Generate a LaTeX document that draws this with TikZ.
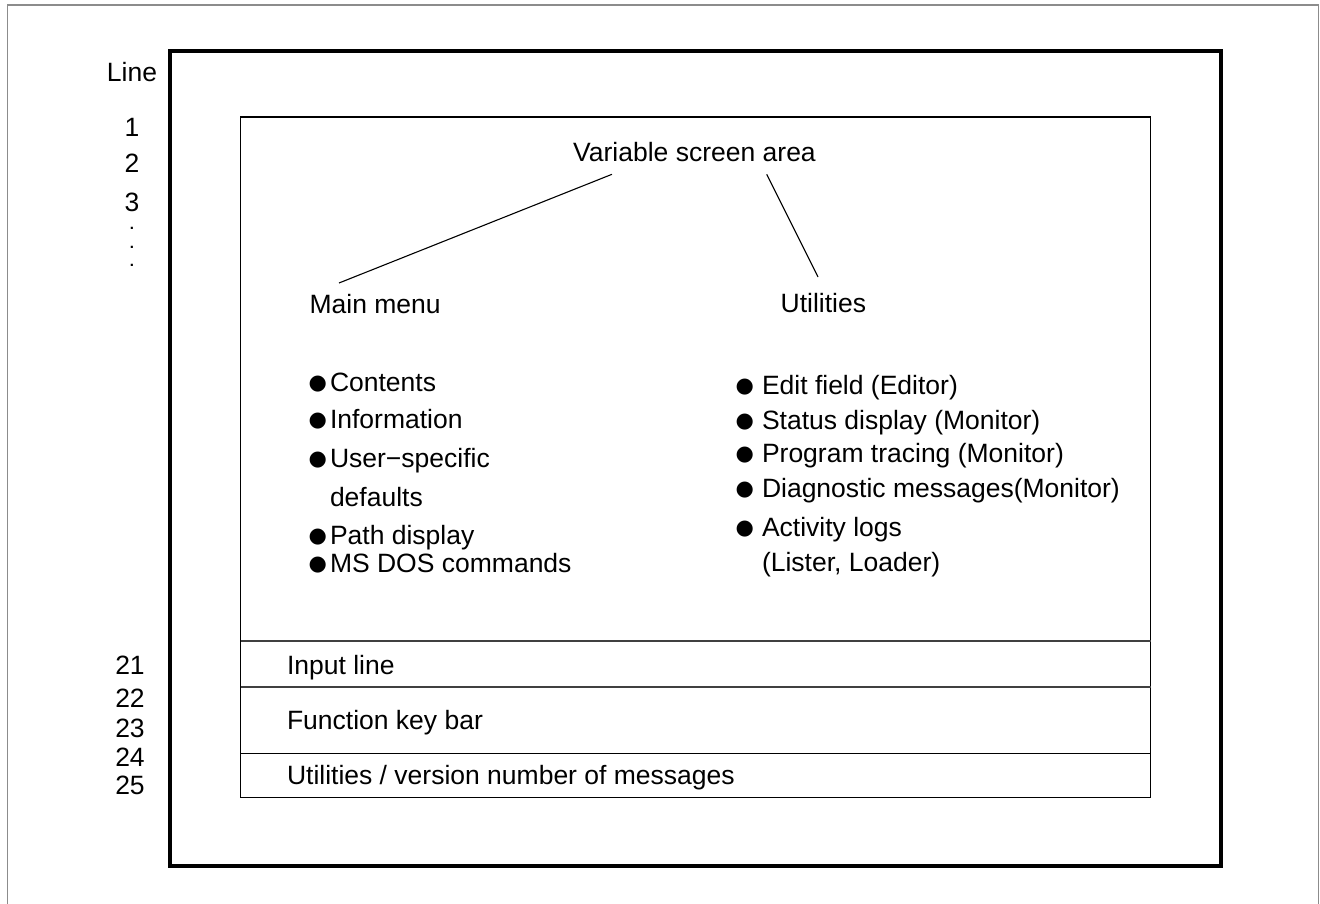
\documentclass[tikz,border=0pt]{standalone}
\usepackage{fontspec}
\setmainfont{Liberation Sans}
\newfontfamily\symfont{DejaVu Sans}
\newcommand{\bul}{\raisebox{2.5pt}{\symfont\fontsize{21}{21}\selectfont ●}}
\newcommand{\itm}[1]{\llap{\bul\kern3pt}#1}
\newcommand{\itmr}[1]{\llap{\bul\kern8pt}#1}
\begin{document}
\begin{tikzpicture}[x=1pt,y=-1pt,
  txt/.style={inner sep=0pt, outer sep=0pt, font=\fontsize{26.5}{32}\selectfont},
  lbl/.style={txt, anchor=base},
  lft/.style={txt, anchor=base west},
  dotlbl/.style={inner sep=0pt, outer sep=0pt, anchor=base, font=\fontsize{15}{15}\selectfont\bfseries},
  thinline/.style={line width=1.3pt},
  sepline/.style={line width=1.7pt, black!75},
  conn/.style={line width=1.1pt}]
\useasboundingbox (0,0) rectangle (1320,904);
% outer frame
\draw[black!45, line width=1.2pt] (7.5,5) rectangle (1318.5,920);
% screen (thick) and inner area
\draw[line width=3.8pt] (170,50.7) rectangle (1220.7,865.7);
\draw[thinline] (240.7,117) rectangle (1150.7,797.3);
\draw[sepline] (240.7,640.7) -- (1150.7,640.7);
\draw[sepline] (240.7,686.7) -- (1150.7,686.7);
\draw[thinline] (240.7,753.3) -- (1150.7,753.3);
% line numbers
\node[lbl] (lline) at (132,81.5) {Line};
\node[lbl] (l1) at (132,136.5) {1};
\node[lbl] (l2) at (132,172.5) {2};
\node[lbl] (l3) at (132,211.5) {3};
\node[dotlbl] (d1) at (132,229.5) {.};
\node[dotlbl] (d2) at (132,248.5) {.};
\node[dotlbl] (d3) at (132,266.5) {.};
\node[lbl] (l21) at (130,674.5) {21};
\node[lbl] (l22) at (130,707.5) {22};
\node[lbl] (l23) at (130,737.5) {23};
\node[lbl] (l24) at (130,766.5) {24};
\node[lbl] (l25) at (130,794.5) {25};
% variable area
\node[lbl] (title) at (694.5,161.5) {Variable screen area};
\node[lft] (mainmenu) at (309.6,313.5) {Main menu};
\node[lft] (utils) at (780.7,312.5) {Utilities};
\coordinate (t1) at (612,174.3);
\coordinate (m1) at (339,283);
\coordinate (t2) at (766.7,174.3);
\coordinate (u1) at (818,277);
\draw[conn] (t1) -- (m1);
\draw[conn] (t2) -- (u1);
% main menu items
\node[lft] (c1) at (330,391.5) {\itm{Contents}};
\node[lft] (c2) at (330,428.5) {\itm{Information}};
\node[lft] (c3) at (330,467.5) {\itm{User−specific}};
\node[lft] (c3b) at (330,506.5) {defaults};
\node[lft] (c4) at (330,544.5) {\itm{Path display}};
\node[lft] (c5) at (330,572.5) {\itm{MS DOS commands}};
% utilities items
\node[lft] (u1t) at (762,394.5) {\itmr{Edit field (Editor)}};
\node[lft] (u2t) at (762,429.5) {\itmr{Status display (Monitor)}};
\node[lft] (u3t) at (762,462.5) {\itmr{Program tracing (Monitor)}};
\node[lft] (u4t) at (762,497.5) {\itmr{Diagnostic messages(Monitor)}};
\node[lft] (u5t) at (762,536.5) {\itmr{Activity logs}};
\node[lft] (u5b) at (762,571.5) {(Lister, Loader)};
% bottom lines
\node[lft] (inp) at (287,674.5) {Input line};
\node[lft] (fkb) at (287,729.5) {Function key bar};
\node[lft] (ver) at (287,784.5) {Utilities / version number of messages};
\end{tikzpicture}
\end{document}
